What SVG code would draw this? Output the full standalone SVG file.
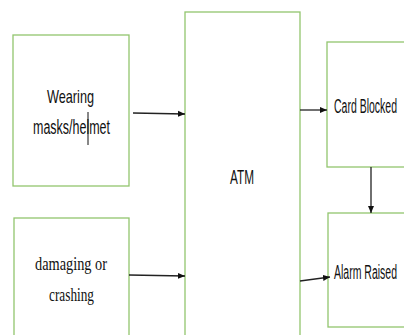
<svg xmlns="http://www.w3.org/2000/svg" width="404" height="335" viewBox="0 0 404 335">
<style>
.box{fill:#fff;stroke:#92c56e;stroke-width:1.3}
.c{stroke:#222;stroke-width:1.3;fill:none}
.cal{font-family:"Liberation Sans",Arial,sans-serif;fill:#111}
.ser{font-family:"Liberation Serif","Times New Roman",serif;fill:#111}
</style>
<defs>
<marker id="ah" markerWidth="8" markerHeight="8" refX="7" refY="4" orient="auto" markerUnits="userSpaceOnUse">
<path d="M0,1 L7,4 L0,7 Z" fill="#111"/>
</marker>
</defs>
<rect width="404" height="335" fill="#fff"/>
<g id="n-wearing">
<rect class="box" x="13" y="35" width="116" height="151"/>
<text class="cal" x="70.5" y="103" font-size="19" text-anchor="middle" textLength="47" lengthAdjust="spacingAndGlyphs">Wearing</text>
<text class="cal" x="71.5" y="134" font-size="20" text-anchor="middle" textLength="77" lengthAdjust="spacingAndGlyphs">masks/helmet</text>
<line x1="88" y1="112" x2="88" y2="145" stroke="#111" stroke-width="1"/>
</g>
<g id="n-damaging">
<rect class="box" x="14" y="218" width="115" height="130"/>
<text class="ser" x="71" y="270" font-size="19" text-anchor="middle" textLength="72" lengthAdjust="spacingAndGlyphs">damaging  or</text>
<text class="ser" x="71.5" y="301" font-size="19" text-anchor="middle" textLength="45" lengthAdjust="spacingAndGlyphs">crashing</text>
</g>
<g id="n-atm">
<rect class="box" x="185" y="12" width="115" height="340"/>
<text class="cal" x="242" y="184" font-size="20" text-anchor="middle" textLength="24" lengthAdjust="spacingAndGlyphs">ATM</text>
</g>
<g id="n-card">
<rect class="box" x="327" y="42" width="90" height="125"/>
<text class="cal" x="334" y="113" font-size="20" textLength="63" lengthAdjust="spacingAndGlyphs">Card Blocked</text>
</g>
<g id="n-alarm">
<rect class="box" x="328" y="213" width="90" height="114"/>
<text class="cal" x="334" y="279" font-size="20" textLength="63" lengthAdjust="spacingAndGlyphs">Alarm Raised</text>
</g>
<g id="connectors">
<line class="c" x1="133" y1="113" x2="185" y2="114" marker-end="url(#ah)"/>
<line class="c" x1="129" y1="275" x2="185" y2="276" marker-end="url(#ah)"/>
<line class="c" x1="300" y1="110" x2="327" y2="110" marker-end="url(#ah)"/>
<line class="c" x1="300" y1="281" x2="330" y2="277" marker-end="url(#ah)"/>
<line class="c" x1="371" y1="167" x2="371" y2="213" marker-end="url(#ah)" stroke-width="1"/>
</g>
</svg>
